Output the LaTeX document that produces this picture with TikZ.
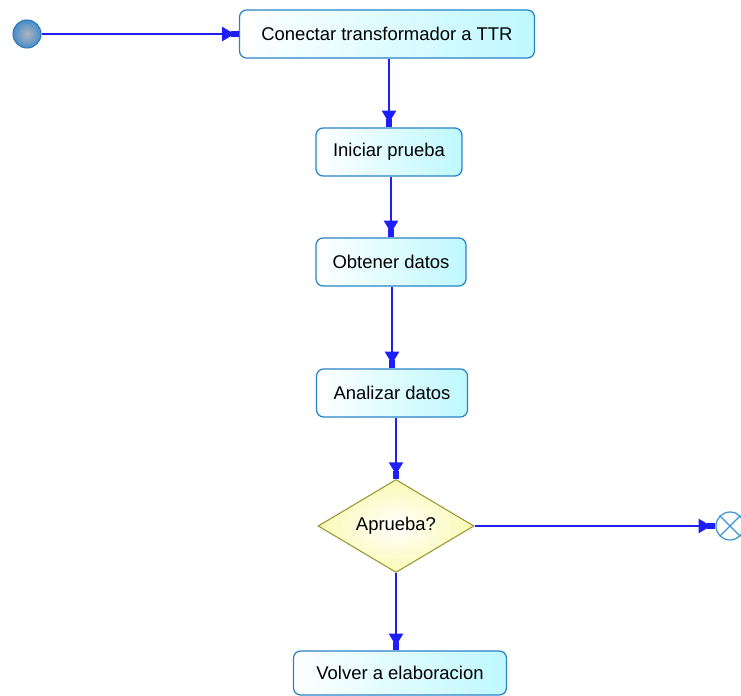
\documentclass[tikz,border=0pt]{standalone}
\usepackage{fontspec}
\setmainfont{Liberation Sans}
\usepackage{tikz}
\usetikzlibrary{shapes.geometric, arrows.meta, positioning, calc}
\definecolor{flowblue}{RGB}{30,30,250}
\definecolor{boxedge}{RGB}{40,130,200}
\definecolor{boxfill}{RGB}{190,248,255}
\definecolor{diaedge}{RGB}{150,150,50}
\definecolor{diafill}{RGB}{250,250,180}
\definecolor{startedge}{RGB}{40,120,190}
\definecolor{startin}{RGB}{175,180,190}
\definecolor{endedge}{RGB}{60,150,210}
\tikzset{
  activity/.style={rectangle, draw=boxedge, left color=white, right color=boxfill,
    minimum height=0.96cm, font=\fontsize{10.5}{12}\selectfont,
    rounded corners=4pt, line width=0.7pt},
  decision/.style={diamond, draw=diaedge, inner color=white, outer color=diafill,
    minimum width=3.12cm, minimum height=1.86cm, inner sep=0pt, aspect=1.7,
    font=\fontsize{10.5}{12}\selectfont, line width=0.6pt},
  startnode/.style={circle, draw=startedge, inner color=startin, outer color=startedge!85,
    minimum size=0.56cm, inner sep=0pt, line width=0.6pt},
  endnode/.style={circle, draw=endedge, fill=white,
    minimum size=0.56cm, inner sep=0pt, line width=0.7pt},
  flow/.style={-{Triangle[length=7pt,width=8pt,sep=-2pt]Rectangle[length=4.5pt,width=3.6pt]},
    line width=1.1pt, color=flowblue}
}
\begin{document}
\begin{tikzpicture}[x=0.02cm, y=-0.02cm]
  \useasboundingbox (0,0) rectangle (741,696);

  % Start and end
  \node[startnode] (start) at (27,34) {};
  \node[endnode] (finish) at (730,526) {};
  \draw[endedge, line width=0.7pt] (finish.45) -- (finish.225) (finish.135) -- (finish.315);

  % Activities
  \node[activity, minimum width=5.9cm] (conectar) at (387,34) {Conectar transformador a TTR};
  \node[activity, minimum width=2.92cm] (iniciar) at (389,152) {Iniciar prueba};
  \node[activity, minimum width=3.0cm] (obtener) at (391,262) {Obtener datos};
  \node[activity, minimum width=3.02cm] (analizar) at (392,393) {Analizar datos};
  \node[decision] (aprueba) at (396,526) {Aprueba?};
  \node[activity, minimum width=4.26cm, minimum height=0.88cm] (volver) at (400,673) {Volver a elaboracion};

  % Connections
  \draw[flow] (start) -- (conectar);
  \draw[flow] (iniciar.north |- conectar.south) -- (iniciar.north);
  \draw[flow] (obtener.north |- iniciar.south) -- (obtener.north);
  \draw[flow] (analizar.north |- obtener.south) -- (analizar.north);
  \draw[flow] (aprueba.north |- analizar.south) -- (aprueba.north);
  \draw[flow] (aprueba) -- (finish);
  \draw[flow] (aprueba.south) -- (aprueba.south |- volver.north);
\end{tikzpicture}
\end{document}
